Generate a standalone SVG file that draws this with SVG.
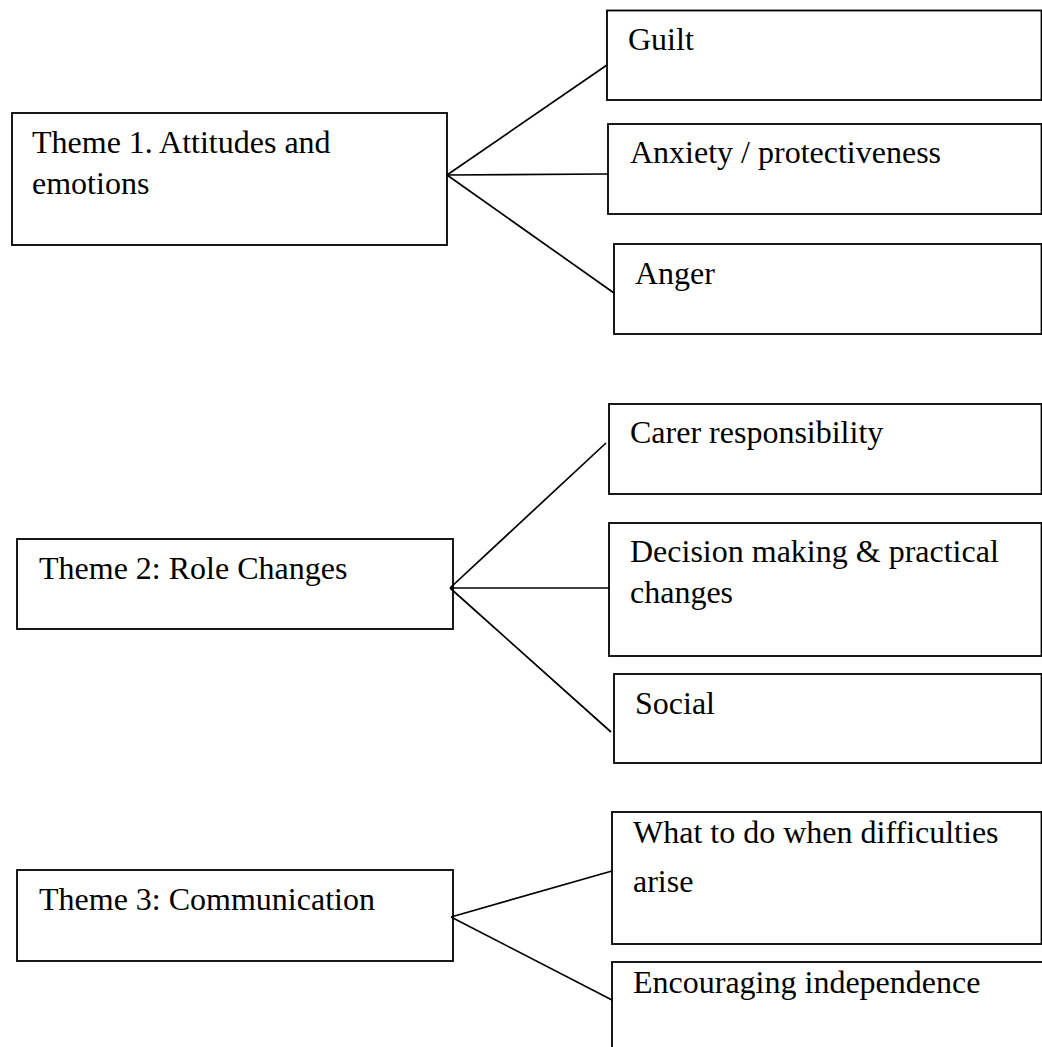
<svg xmlns="http://www.w3.org/2000/svg" width="1042" height="1047" viewBox="0 0 1042 1047">
<style>
.box{fill:#fff;stroke:#000;stroke-width:1.8}
.lbl{font-family:"Liberation Serif","Times New Roman",serif;font-size:32px;fill:#000}
.con line{stroke:#000;stroke-width:1.7}
</style>
<rect width="1042" height="1047" fill="#fff"/>
<g id="theme1"><rect class="box" x="12" y="113" width="435" height="132"/><text class="lbl" x="32" y="153">Theme 1. Attitudes and</text><text class="lbl" x="32" y="194">emotions</text></g>
<g id="guilt"><rect class="box" x="607" y="10.5" width="434.5" height="89.5"/><text class="lbl" x="628" y="50">Guilt</text></g>
<g id="anxiety"><rect class="box" x="608" y="124" width="433.5" height="90"/><text class="lbl" x="630" y="163">Anxiety / protectiveness</text></g>
<g id="anger"><rect class="box" x="614" y="244" width="427.5" height="90"/><text class="lbl" x="635" y="284">Anger</text></g>
<g id="theme2"><rect class="box" x="17" y="539" width="436" height="90"/><text class="lbl" x="39" y="579">Theme 2: Role Changes</text></g>
<g id="carer"><rect class="box" x="609" y="404" width="432.5" height="90"/><text class="lbl" x="630" y="443">Carer responsibility</text></g>
<g id="decision"><rect class="box" x="609" y="523" width="432.5" height="133"/><text class="lbl" x="630" y="562">Decision making &amp; practical</text><text class="lbl" x="630" y="603">changes</text></g>
<g id="social"><rect class="box" x="614" y="674" width="427.5" height="89"/><text class="lbl" x="635" y="714">Social</text></g>
<g id="theme3"><rect class="box" x="17" y="870" width="436" height="91"/><text class="lbl" x="39" y="910">Theme 3: Communication</text></g>
<g id="what"><rect class="box" x="612" y="812" width="429.5" height="132"/><text class="lbl" x="633" y="843">What to do when difficulties</text><text class="lbl" x="633" y="892">arise</text></g>
<g id="encouraging"><rect class="box" x="612" y="962" width="440" height="100"/><text class="lbl" x="633" y="993">Encouraging independence</text></g>
<g id="connectors" class="con">
<line x1="447" y1="175" x2="607" y2="65"/>
<line x1="447" y1="175" x2="608" y2="174"/>
<line x1="447" y1="175" x2="614" y2="293"/>
<line x1="450" y1="588" x2="606" y2="443"/>
<line x1="450" y1="588" x2="609" y2="588"/>
<line x1="450" y1="588" x2="611" y2="732"/>
<line x1="451" y1="917" x2="612" y2="871"/>
<line x1="451" y1="917" x2="612" y2="1000"/>
</g>
</svg>
